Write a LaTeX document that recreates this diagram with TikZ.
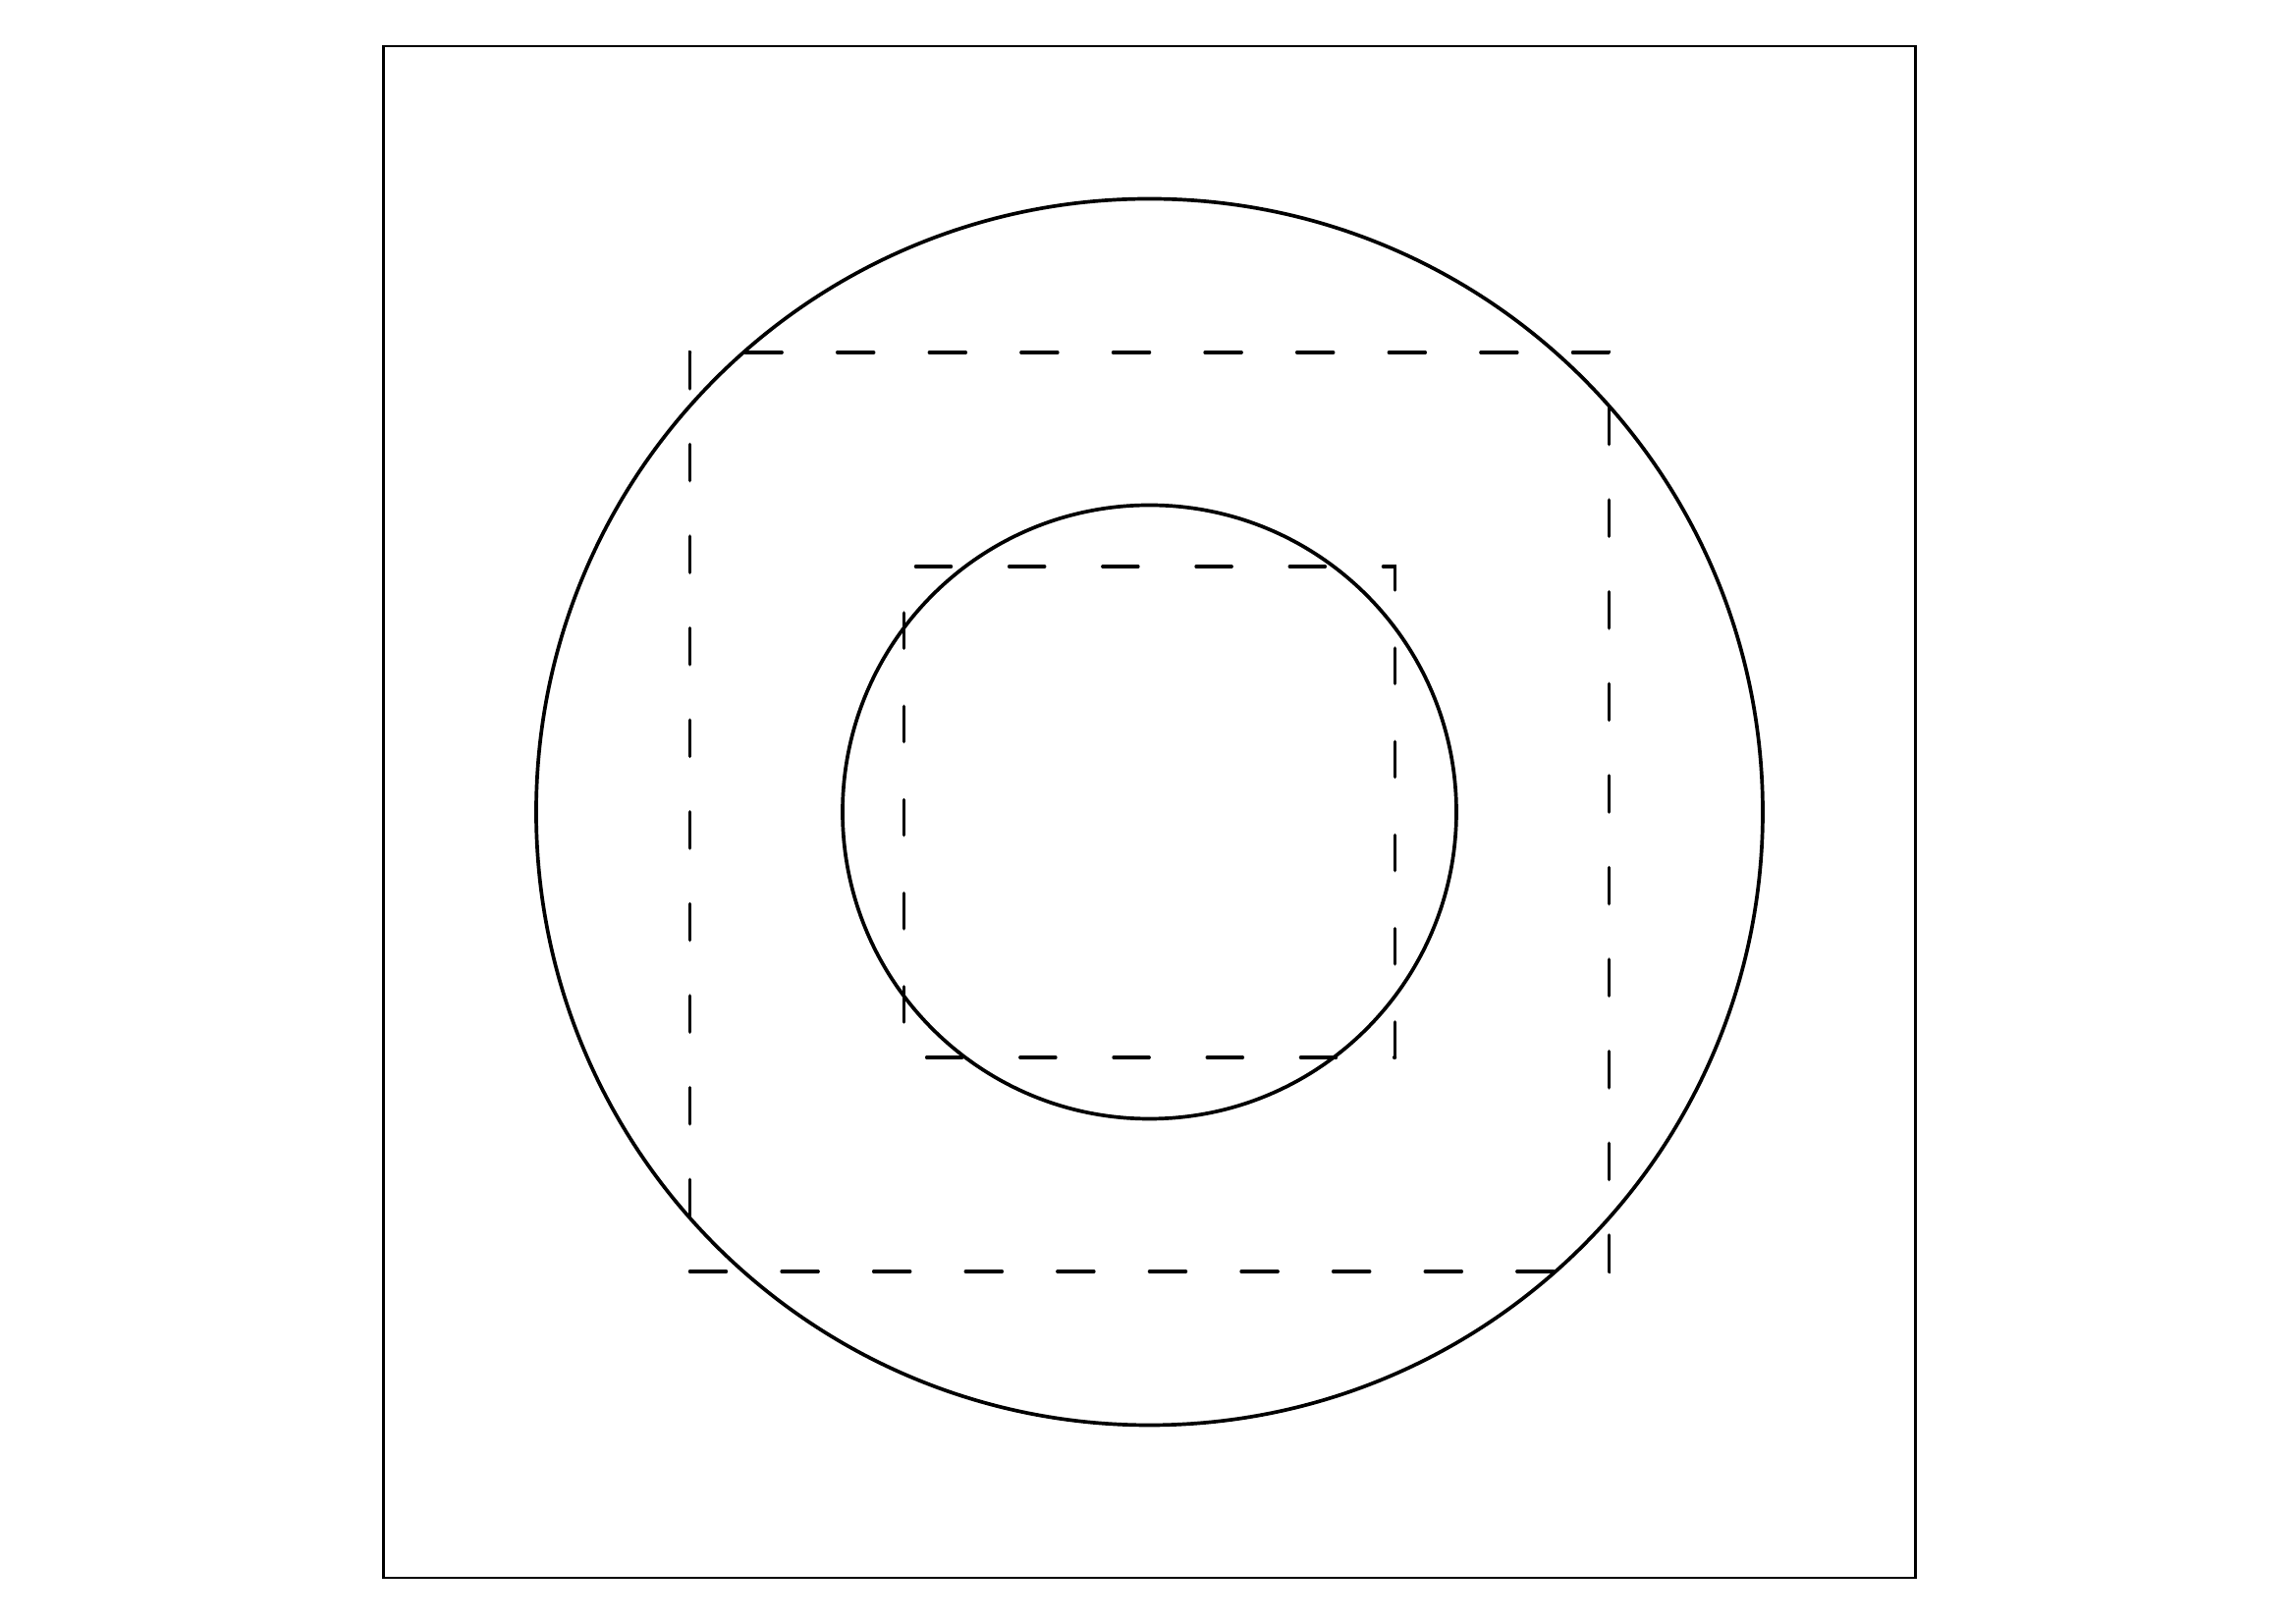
\documentclass[tikz,border=0pt]{standalone}
\usepackage{tikz}

\begin{document}
\begin{tikzpicture}[
frame/.style={line width=0.6pt},
ring/.style={line width=1.05pt},
outerdash/.style={line width=1pt,line cap=round,dash pattern=on 0.37cm off 0.566cm},
innerdash/.style={line width=1pt,line cap=round,dash pattern=on 0.36cm off 0.592cm}
]
\useasboundingbox (-11.705,-8.25) rectangle (11.675,8.27);
\coordinate (o) at (0,0);
\draw[frame] (-7.8,-7.8) rectangle (7.8,7.8);
\draw[ring] (o) circle[radius=6.245];
\draw[ring] (o) circle[radius=3.125];
\draw[outerdash] (-4.68,-4.68) -- (4.68,-4.68) -- (4.68,4.68) -- (-4.68,4.68) -- cycle;
\draw[innerdash] (2.5,-2.5) -- (2.5,2.5) -- (-2.5,2.5) -- (-2.5,-2.5) -- cycle;
\end{tikzpicture}
\end{document}
